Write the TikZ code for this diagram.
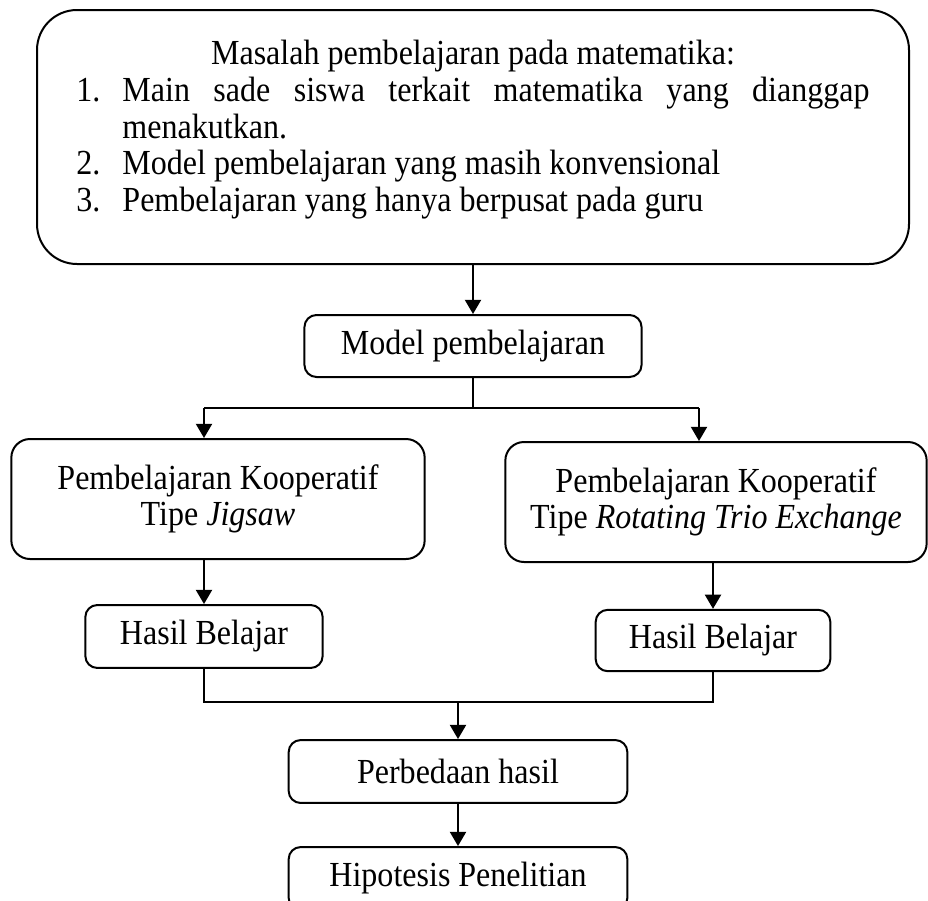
\documentclass[tikz,border=0pt]{standalone}
\usepackage{fontspec}
\setmainfont{Liberation Serif}[FakeStretch=0.91]
\usetikzlibrary{arrows.meta}
\begin{document}
\begin{tikzpicture}[
    x=0.375pt,
    y=-0.375pt,
    font=\fontsize{13.2pt}{13.75pt}\selectfont,
    box/.style={
        draw=black,
        line width=0.75pt,
        rounded corners=4.5pt,
        inner sep=0pt,
        align=center
    },
    line/.style={
        line width=0.75pt,
        draw=black
    },
    arr/.style={
        line,
        -{Triangle[length=5.3pt,width=6pt]}
    }
]

    \useasboundingbox (0,0) rectangle (928,900);

    \node[
        box,
        rounded corners=15pt,
        minimum width=327pt,
        minimum height=95.25pt,
        text width=297.4pt,
        align=justify
    ] (masalah) at (473,137)
        {{\centering Masalah pembelajaran pada matematika:\par}
         \noindent\hangindent=17.25pt\hangafter=1\makebox[17.25pt][l]{1.}Main sade siswa terkait matematika yang dianggap\linebreak menakutkan.\par
         \noindent\makebox[17.25pt][l]{2.}Model pembelajaran yang masih konvensional\par
         \noindent\makebox[17.25pt][l]{3.}Pembelajaran yang hanya berpusat pada guru\rule[-8.3pt]{0pt}{8.3pt}};

    \node[
        box,
        minimum width=126.4pt,
        minimum height=23.25pt
    ] (model) at (473,346)
        {Model pembelajaran};

    \node[
        box,
        rounded corners=7pt,
        minimum width=155pt,
        minimum height=45pt
    ] (jigsaw) at (218,499)
        {Pembelajaran Kooperatif\\
         Tipe \textit{Jigsaw}};

    \node[
        box,
        rounded corners=7pt,
        minimum width=158pt,
        minimum height=45pt
    ] (rte) at (716,502)
        {Pembelajaran Kooperatif\\
         Tipe \textit{Rotating Trio Exchange}};

    \node[
        box,
        minimum width=89pt,
        minimum height=23.6pt
    ] (hasilA) at (204,636.5)
        {Hasil Belajar};

    \node[
        box,
        minimum width=88pt,
        minimum height=23pt
    ] (hasilB) at (713,640.5)
        {Hasil Belajar};

    \node[
        box,
        minimum width=127pt,
        minimum height=23.6pt
    ] (perbedaan) at (458,771.5)
        {Perbedaan hasil};

    \node[
        box,
        minimum width=127pt,
        minimum height=23.6pt
    ] (hipotesis) at (458,878.5)
        {Hipotesis Penelitian};

    \coordinate (splitL) at (204,408);
    \coordinate (splitR) at (699,408);
    \coordinate (merge) at (458,702);

    \draw[arr]
        (masalah)
        -- (model);

    \draw[line]
        (model)
        -- (model |- splitL);

    \draw[line]
        (splitL)
        -- (splitR);

    \draw[arr]
        (splitL)
        -- (splitL |- jigsaw.north);

    \draw[arr]
        (splitR)
        -- (splitR |- rte.north);

    \draw[arr]
        (jigsaw.south -| hasilA)
        -- (hasilA.north);

    \draw[arr]
        (rte.south -| hasilB)
        -- (hasilB.north);

    \draw[line]
        (hasilA.south)
        |- (merge)
        -| (hasilB.south);

    \draw[arr]
        (merge)
        -- (perbedaan.north);

    \draw[arr]
        (perbedaan)
        -- (hipotesis);

\end{tikzpicture}
\end{document}
